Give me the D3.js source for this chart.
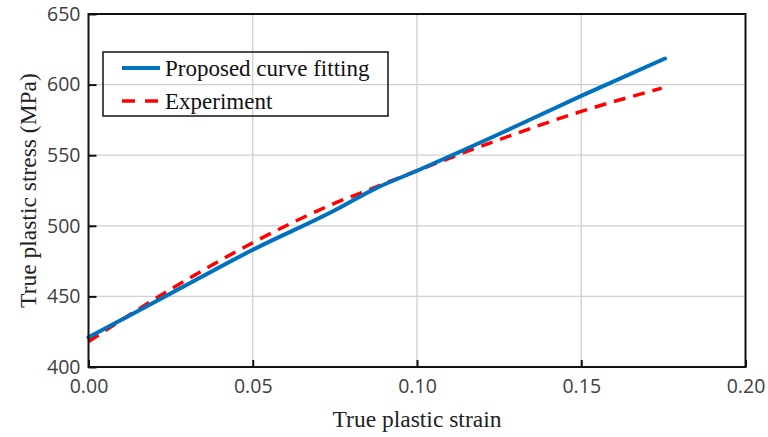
<!DOCTYPE html>
<html lang="en">
<head>
    <meta charset="UTF-8">
    <title>True stress vs strain</title>
    <script src="https://d3js.org/d3.v7.min.js"></script>
    <style>
        body { margin: 0; background: #fff; }
        .grid line { stroke: #d0d0d0; stroke-width: 1.3px; }
        .tick-label { font: 19.5px "Open Sans", "Liberation Sans", sans-serif; fill: #404040; }
        .axis-title { font: 23.5px "Liberation Serif", "DejaVu Serif", serif; fill: #222; }
        .legend text { font: 23px "Liberation Serif", "DejaVu Serif", serif; fill: #111; }
    </style>
</head>
<body>
    <svg width="768" height="437"></svg>
    <script>
        // values
        const xTicks = [0, 0.05, 0.10, 0.15, 0.20];
        const yTicks = [400, 450, 500, 550, 600, 650];

        const fitStrain = [0, 0.025, 0.05, 0.075, 0.087, 0.10, 0.125, 0.15, 0.1755];
        const fitStress = [421, 452, 483, 511, 526, 539, 565, 592, 618.5];

        const expStrain = [0, 0.025, 0.05, 0.075, 0.087, 0.10, 0.125, 0.15, 0.1745];
        const expStress = [418, 455, 488, 516, 527, 539, 561, 581, 597.5];

        const seriesNames = ["Proposed curve fitting", "Experiment"];

        const margin = { left: 88.5, top: 14, right: 22.5, bottom: 70 };
        const width = 768, height = 437;

        const svg = d3.select("svg");

        const x = d3.scaleLinear().domain([0, 0.2]).range([margin.left, width - margin.right]);
        const y = d3.scaleLinear().domain([400, 650]).range([height - margin.bottom, margin.top]);

        // gridlines
        const grid = svg.append("g").attr("class", "grid");
        grid.selectAll(".gx")
            .data(xTicks.slice(1, -1))
            .enter().append("line")
            .attr("x1", d => x(d)).attr("x2", d => x(d))
            .attr("y1", y(400)).attr("y2", y(650));
        grid.selectAll(".gy")
            .data(yTicks.slice(1, -1))
            .enter().append("line")
            .attr("x1", x(0)).attr("x2", x(0.2))
            .attr("y1", d => y(d)).attr("y2", d => y(d));

        // curves
        const line = d3.line()
            .x(d => x(d[0]))
            .y(d => y(d[1]))
            .curve(d3.curveMonotoneX);

        svg.append("path")
            .datum(d3.zip(expStrain, expStress))
            .attr("fill", "none")
            .attr("stroke", "#ff0000")
            .attr("stroke-width", 3.5)
            .attr("stroke-dasharray", "12,8")
            .attr("d", line);

        svg.append("path")
            .datum(d3.zip(fitStrain, fitStress))
            .attr("fill", "none")
            .attr("stroke", "#0070c0")
            .attr("stroke-width", 4)
            .attr("stroke-linecap", "round")
            .attr("d", line);

        // frame
        svg.append("rect")
            .attr("x", x(0)).attr("y", y(650))
            .attr("width", x(0.2) - x(0)).attr("height", y(400) - y(650))
            .attr("fill", "none")
            .attr("stroke", "#111")
            .attr("stroke-width", 2);

        // axes with inward ticks
        const xAxis = d3.axisBottom(x).tickValues(xTicks).tickSize(-7).tickPadding(12)
            .tickFormat(d3.format(".2f"));
        const gx = svg.append("g")
            .attr("transform", "translate(0," + y(400) + ")")
            .call(xAxis);
        gx.select(".domain").remove();
        gx.selectAll(".tick line").attr("stroke", "#111").attr("stroke-width", 2);
        gx.selectAll(".tick text").attr("class", "tick-label").attr("fill", null);

        const yAxis = d3.axisLeft(y).tickValues(yTicks).tickSize(-8).tickPadding(8);
        const gy = svg.append("g")
            .attr("transform", "translate(" + x(0) + ",0)")
            .call(yAxis);
        gy.select(".domain").remove();
        gy.selectAll(".tick line").attr("stroke", "#111").attr("stroke-width", 2);
        gy.selectAll(".tick text").attr("class", "tick-label").attr("fill", null);

        // axis titles
        svg.append("text")
            .attr("class", "axis-title")
            .attr("x", (x(0) + x(0.2)) / 2)
            .attr("y", 427)
            .attr("text-anchor", "middle")
            .text("True plastic strain");

        svg.append("text")
            .attr("class", "axis-title")
            .attr("transform", "translate(36," + (y(400) + y(650)) / 2 + ") rotate(-90)")
            .attr("text-anchor", "middle")
            .text("True plastic stress (MPa)");

        // legend
        const legend = svg.append("g").attr("class", "legend");
        legend.append("rect")
            .attr("x", 103).attr("y", 52)
            .attr("width", 285).attr("height", 64)
            .attr("fill", "none")
            .attr("stroke", "#111")
            .attr("stroke-width", 1.5);

        const rows = legend.selectAll(".row")
            .data(seriesNames)
            .enter().append("g")
            .attr("transform", (d, i) => "translate(122," + (68 + i * 33) + ")");

        rows.append("line")
            .attr("x1", 0).attr("x2", 38)
            .attr("stroke", (d, i) => i === 0 ? "#0070c0" : "#ff0000")
            .attr("stroke-width", (d, i) => i === 0 ? 4 : 3.5)
            .attr("stroke-dasharray", (d, i) => i === 0 ? null : "13,10");

        rows.append("text")
            .attr("x", 43)
            .attr("dy", "0.35em")
            .text(d => d);
    </script>
</body>
</html>
